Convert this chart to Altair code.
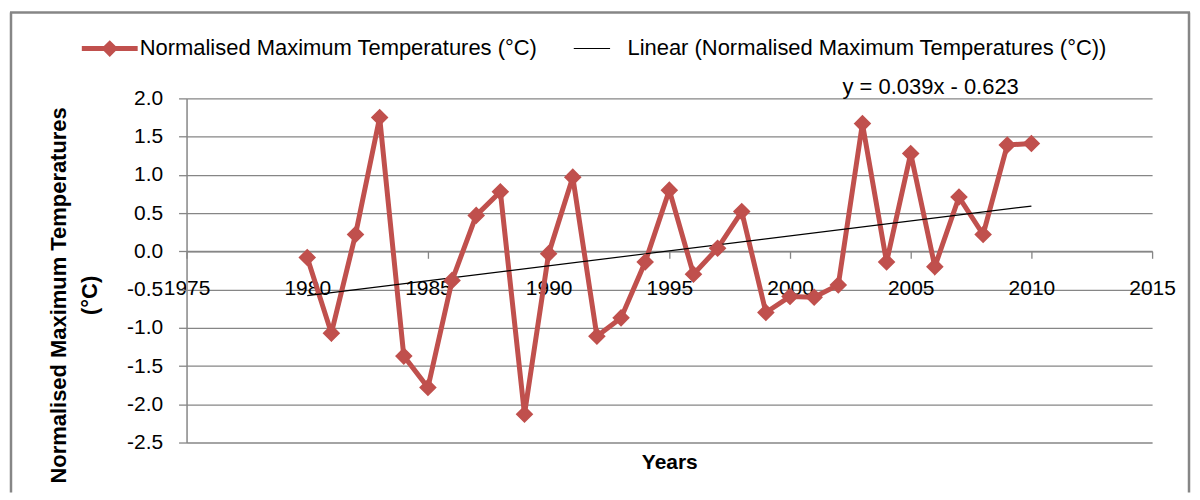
import altair as alt
import pandas as pd

# ---- data ----
years = list(range(1980, 2011))
values = [-0.08, -1.07, 0.22, 1.75, -1.37, -1.78, -0.38, 0.47, 0.78, -2.13,
          -0.03, 0.97, -1.11, -0.87, -0.14, 0.80, -0.30, 0.04, 0.52, -0.80,
          -0.59, -0.60, -0.44, 1.67, -0.14, 1.28, -0.20, 0.71, 0.22, 1.39, 1.41]
series_names = ["Normalised Maximum Temperatures (°C)",
                "Linear (Normalised Maximum Temperatures (°C))"]
series_colors = ["#C0504D", "#000000"]
x_ticks = [1975, 1980, 1985, 1990, 1995, 2000, 2005, 2010, 2015]
y_ticks = [-2.5, -2.0, -1.5, -1.0, -0.5, 0.0, 0.5, 1.0, 1.5, 2.0]
equation = "y = 0.039x - 0.623"
y_title = ["Normalised Maximum Temperatures", "(°C)"]
x_title = "Years"

FONT = "Liberation Sans"
GRID = "#868686"
W, H = 968, 345

df = pd.DataFrame({"Year": years, "Value": values})

xscale = alt.Scale(domain=[1975, 2015], nice=False, zero=False)
yscale = alt.Scale(domain=[-2.5, 2.0], nice=False, zero=False)

x_axis = alt.Axis(values=x_ticks, format="d", grid=False, offset=-191.7,
                  domainColor=GRID, domainWidth=1.5, tickColor=GRID, tickWidth=1.3,
                  tickSize=7, labelPadding=19, labelFontSize=21, labelFont=FONT,
                  labelColor="#000", labelFlush=False, labelOverlap=False,
                  title=x_title, titleFont=FONT, titleFontSize=21, titleFontWeight="bold",
                  titleColor="#000", titleY=212, titleBaseline="middle")
y_axis = alt.Axis(values=y_ticks, grid=True, gridColor=GRID, gridWidth=1.3,
                  labelExpr="replace(format(datum.value, '.1f'), '\u2212', '-')",
                  domainColor=GRID, domainWidth=1.5, tickColor=GRID, tickWidth=1.3,
                  tickSize=8, labelPadding=16, labelFontSize=21, labelFont=FONT,
                  labelColor="#000", labelFlush=False, labelOverlap=False,
                  title=y_title, titleFont=FONT, titleFontSize=22, titleFontWeight="bold",
                  titleColor="#000", titleX=-128, titleY=197, titleAngle=270,
                  titleLineHeight=31, titleAlign="center", titleBaseline="middle")

X = alt.X("Year:Q", scale=xscale, axis=x_axis)
Y = alt.Y("Value:Q", scale=yscale, axis=y_axis)

base = alt.Chart(df)

line = base.mark_line(color=series_colors[0], strokeWidth=5).encode(x=X, y=Y)
points = base.mark_point(shape="diamond", filled=True, color=series_colors[0],
                         size=220, opacity=1, stroke=series_colors[0], strokeWidth=2).encode(x=X, y=Y)
trend = base.transform_regression("Year", "Value", extent=[1980, 2010]).mark_line(
    color="#000", strokeWidth=1.2).encode(x=X, y=Y)

eq_text = alt.Chart(alt.Data(values=[{"t": equation}])).mark_text(
    font=FONT, fontSize=22, color="#000", align="center", baseline="middle").encode(
    text="t:N", x=alt.value(746), y=alt.value(-11))

one = alt.Data(values=[{}])
frame_left = alt.Chart(one).mark_rule(stroke=GRID, strokeWidth=2.5).encode(
    x=alt.value(-176), y=alt.value(-86), y2=alt.value(395))
frame_top = alt.Chart(one).mark_rule(stroke=GRID, strokeWidth=2.5).encode(
    x=alt.value(-177), x2=alt.value(1006), y=alt.value(-86))
frame_right = alt.Chart(one).mark_rule(stroke=GRID, strokeWidth=2.5).encode(
    x=alt.value(1005), y=alt.value(-86), y2=alt.value(395))

sym1 = "M-1,-0.09L1,-0.09L1,0.09L-1,0.09Z M0,-0.3L0.3,0L0,0.3L-0.3,0Z"
sym2 = "M-0.85,-0.02L0.45,-0.02L0.45,0.02L-0.85,0.02Z"
leg = alt.Legend(orient="none", legendX=-105, legendY=-78, direction="horizontal",
                 title=None, labelFont=FONT, labelFontSize=22, labelColor="#000",
                 labelOffset=2, columnPadding=32, symbolSize=3136, symbolOpacity=1,
                 symbolStrokeWidth=0, padding=0, labelLimit=1000)
legend_layer = alt.Chart(pd.DataFrame({"series": series_names})).mark_point(
    filled=True, opacity=0).encode(
    x=alt.value(0), y=alt.value(0),
    color=alt.Color("series:N", scale=alt.Scale(domain=series_names, range=series_colors), legend=leg),
    shape=alt.Shape("series:N", scale=alt.Scale(domain=series_names, range=[sym1, sym2]), legend=leg),
)

chart = alt.layer(line, frame_left, frame_top, frame_right, trend, points, eq_text,
                  legend_layer).properties(
    width=W, height=H,
    padding={"left": 0, "top": 2, "right": 0, "bottom": 0},
).configure(font=FONT).configure_view(stroke=None)

chart.save("out.html", embed_options={"renderer": "svg", "actions": False})
